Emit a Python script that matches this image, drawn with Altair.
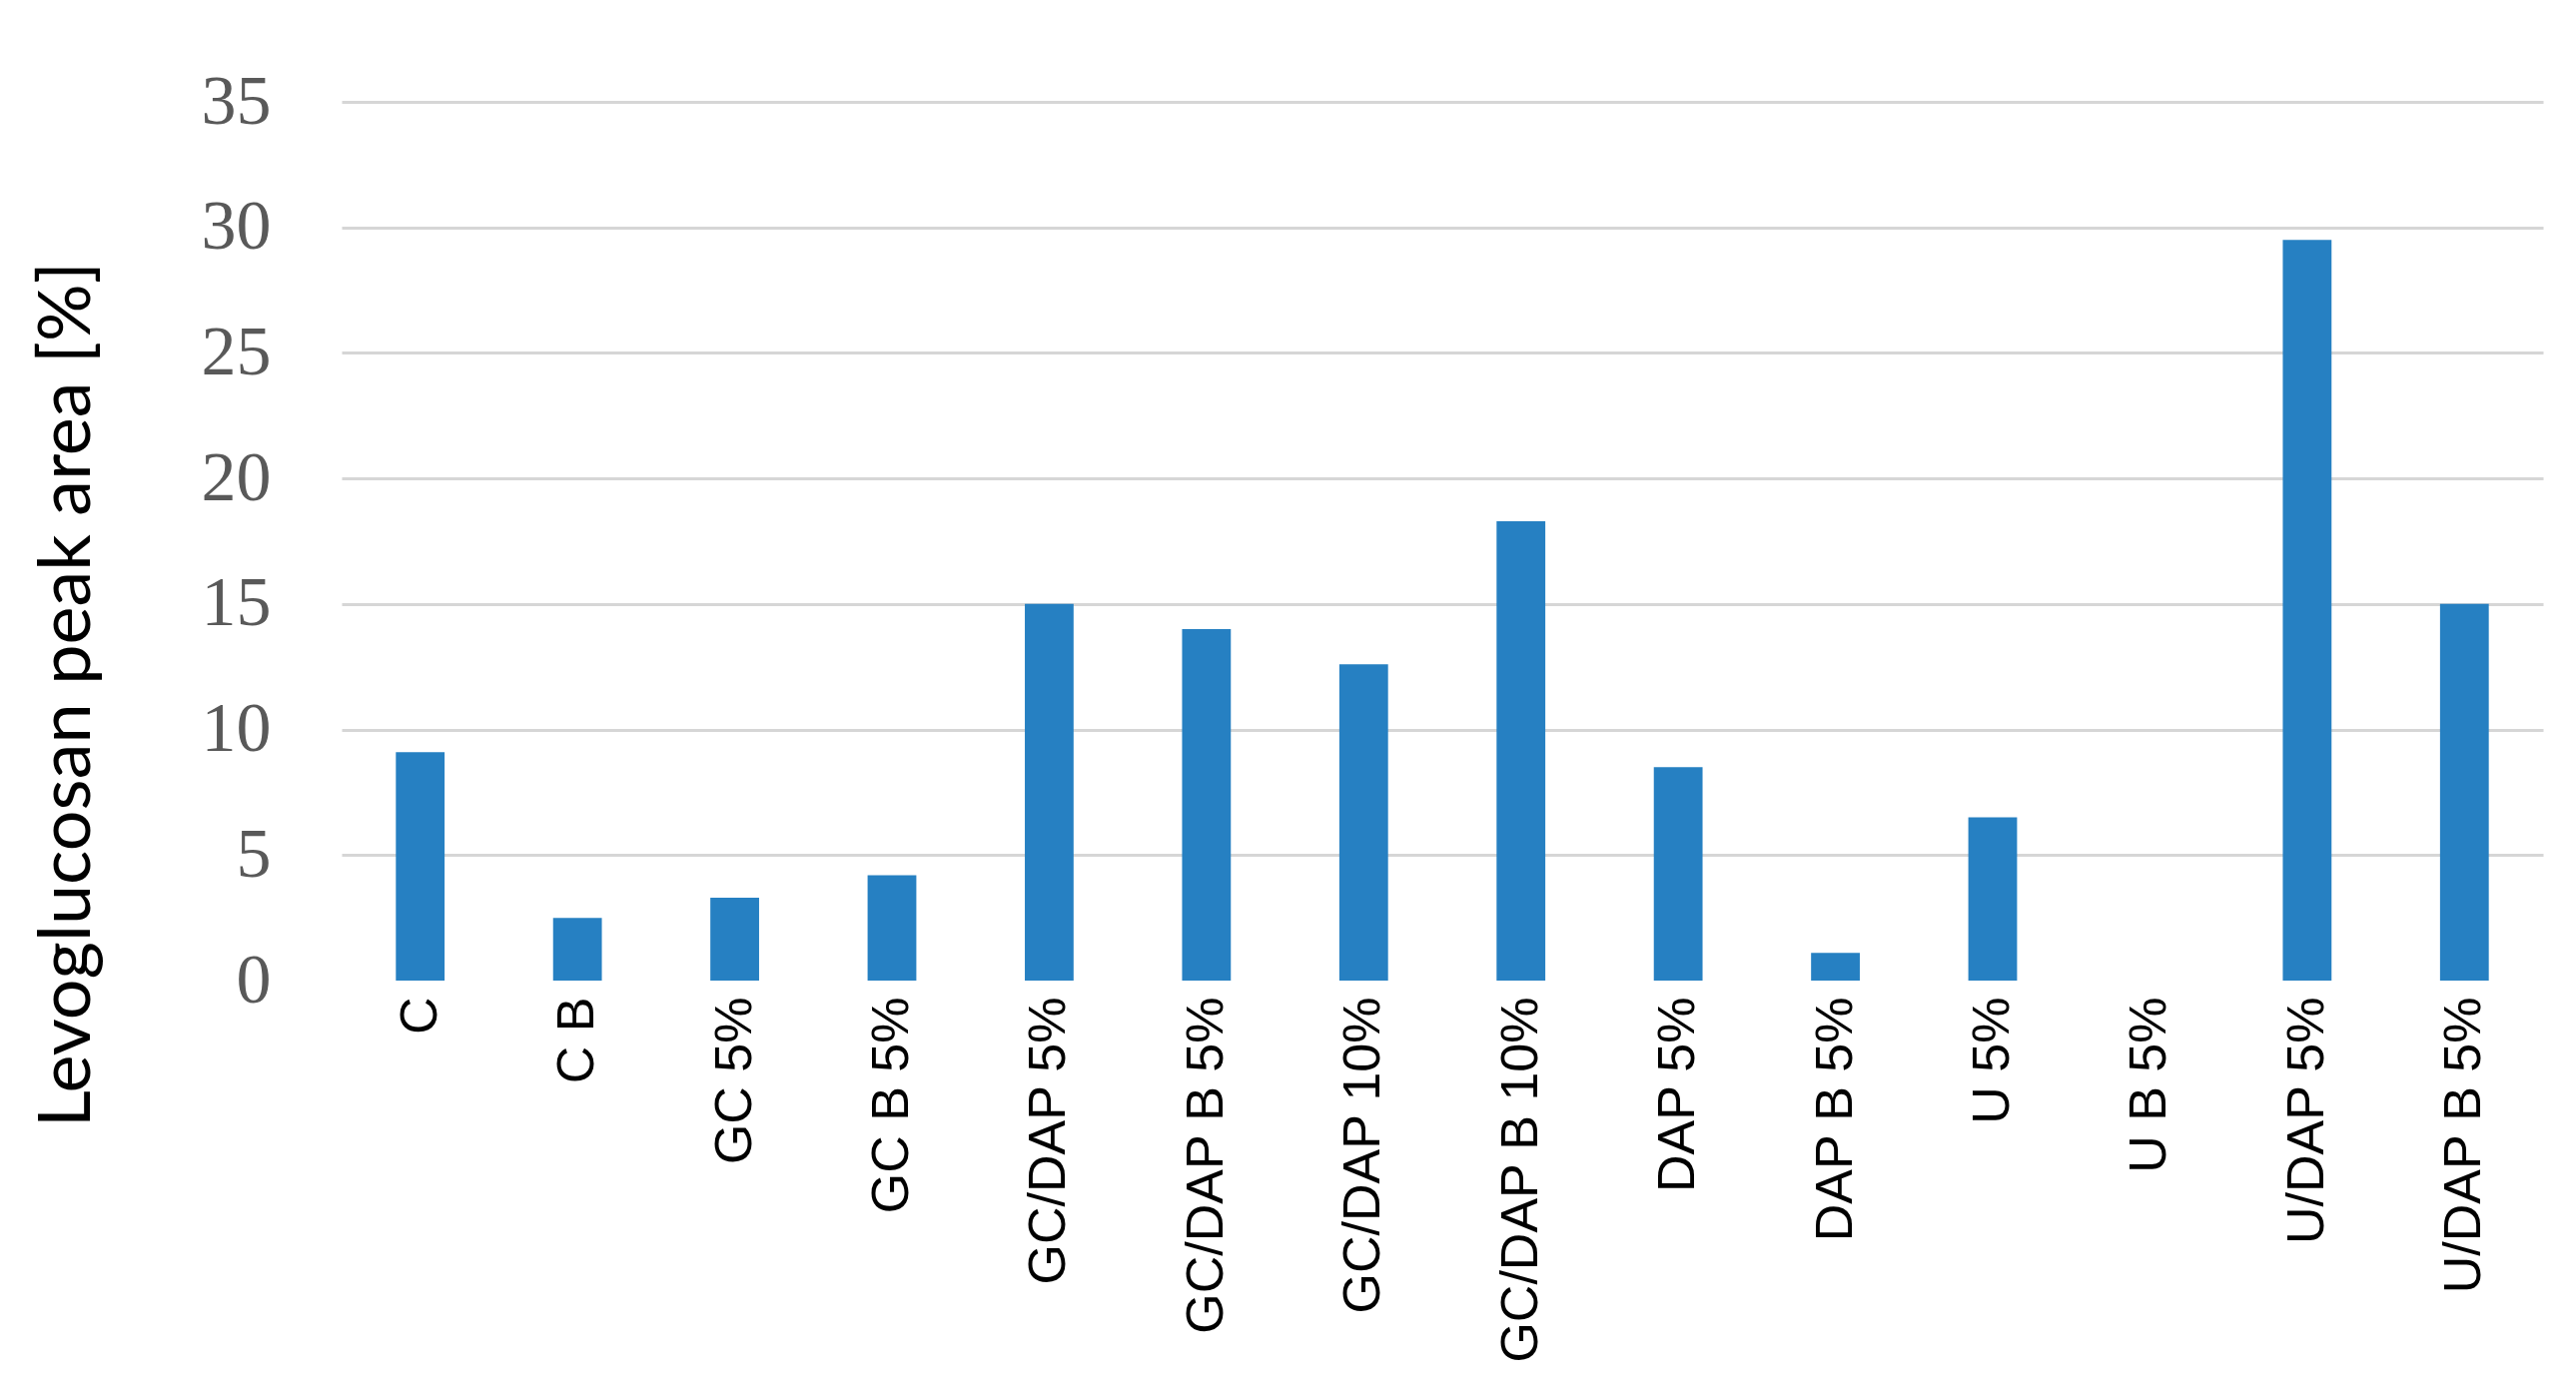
import altair as alt
import pandas as pd

categories = ["C", "C B", "GC 5%", "GC B 5%", "GC/DAP 5%", "GC/DAP B 5%",
              "GC/DAP 10%", "GC/DAP B 10%", "DAP 5%", "DAP B 5%", "U 5%",
              "U B 5%", "U/DAP 5%", "U/DAP B 5%"]
values = [9.1, 2.5, 3.3, 4.2, 15.0, 14.0, 12.6, 18.3, 8.5, 1.1, 6.5, 0.0, 29.5, 15.0]
y_ticks = [0, 5, 10, 15, 20, 25, 30, 35]

df = pd.DataFrame({"cat": categories, "val": values})

chart = alt.Chart(df).mark_bar(color="#2680C2").encode(
    x=alt.X("cat:N", sort=categories, title=None,
            scale=alt.Scale(paddingInner=0.69, paddingOuter=0.345),
            axis=alt.Axis(labelAngle=-90, labelFont="Liberation Sans", labelFontSize=52,
                          labelColor="#000000", labelPadding=16, ticks=False, domain=False,
                          labelLimit=0)),
    y=alt.Y("val:Q", title="Levoglucosan peak area [%]",
            scale=alt.Scale(domain=[0, 35], nice=False),
            axis=alt.Axis(values=y_ticks, labelFont="Liberation Serif", labelFontSize=70,
                          labelColor="#595959", labelPadding=71, ticks=False, domain=False,
                          gridColor="#D6D6D6", gridWidth=3,
                          gridOpacity={"condition": {"test": "datum.value === 0", "value": 0}, "value": 1},
                          titleFont="Lato", titleFontSize=72, titleFontWeight="normal",
                          titleColor="#000000", titleX=-275, titleY=593,
                          titleBaseline="middle", titleAngle=-90, titleAlign="center")),
).properties(
    width=2204, height=880,
    padding={"left": 334, "top": 94, "right": 25, "bottom": 402},
    autosize="none",
).configure_view(stroke=None)

chart.save("out.html", embed_options={"renderer": "svg", "actions": False})
